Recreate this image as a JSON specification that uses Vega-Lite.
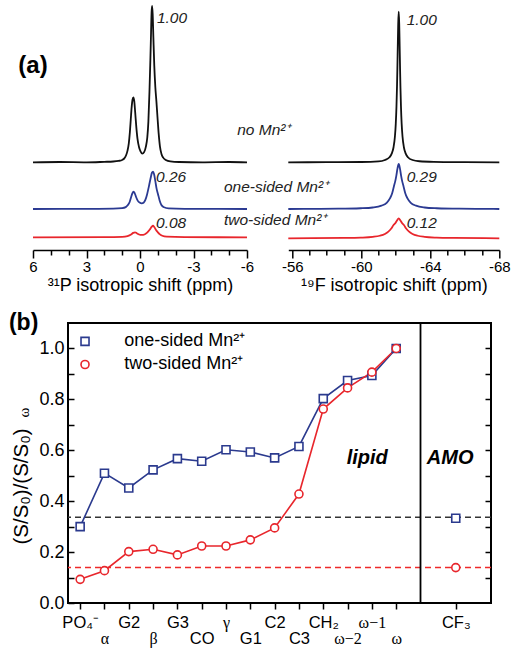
{
  "$schema": "https://vega.github.io/schema/vega-lite/v6.json",
  "padding": {"left": 7, "top": 2, "right": 0, "bottom": 0},
  "background": "white",
  "config": {"font": "Liberation Sans", "view": {"stroke": null}},
  "datasets": {
    "p31": [
      {"trace":"none","ppm":6,"I":0},{"trace":"none","ppm":4.5,"I":0.002},{"trace":"none","ppm":3,"I":0},{"trace":"none","ppm":2,"I":0.003},{"trace":"none","ppm":1.5,"I":0.005},{"trace":"none","ppm":1.2,"I":0.009},{"trace":"none","ppm":1.0,"I":0.015},{"trace":"none","ppm":0.88,"I":0.025},{"trace":"none","ppm":0.78,"I":0.045},{"trace":"none","ppm":0.7,"I":0.075},{"trace":"none","ppm":0.63,"I":0.12},{"trace":"none","ppm":0.57,"I":0.19},{"trace":"none","ppm":0.52,"I":0.27},{"trace":"none","ppm":0.47,"I":0.35},{"trace":"none","ppm":0.42,"I":0.4},{"trace":"none","ppm":0.37,"I":0.415},{"trace":"none","ppm":0.32,"I":0.39},{"trace":"none","ppm":0.27,"I":0.32},{"trace":"none","ppm":0.21,"I":0.23},{"trace":"none","ppm":0.14,"I":0.15},{"trace":"none","ppm":0.06,"I":0.1},{"trace":"none","ppm":-0.03,"I":0.07},{"trace":"none","ppm":-0.13,"I":0.055},{"trace":"none","ppm":-0.23,"I":0.065},{"trace":"none","ppm":-0.33,"I":0.1},{"trace":"none","ppm":-0.41,"I":0.16},{"trace":"none","ppm":-0.47,"I":0.26},{"trace":"none","ppm":-0.53,"I":0.45},{"trace":"none","ppm":-0.58,"I":0.65},{"trace":"none","ppm":-0.62,"I":0.83},{"trace":"none","ppm":-0.65,"I":0.96},{"trace":"none","ppm":-0.68,"I":1.0},{"trace":"none","ppm":-0.71,"I":0.95},{"trace":"none","ppm":-0.75,"I":0.8},{"trace":"none","ppm":-0.8,"I":0.62},{"trace":"none","ppm":-0.86,"I":0.48},{"trace":"none","ppm":-0.92,"I":0.39},{"trace":"none","ppm":-0.98,"I":0.29},{"trace":"none","ppm":-1.05,"I":0.18},{"trace":"none","ppm":-1.12,"I":0.1},{"trace":"none","ppm":-1.2,"I":0.055},{"trace":"none","ppm":-1.3,"I":0.03},{"trace":"none","ppm":-1.45,"I":0.015},{"trace":"none","ppm":-1.7,"I":0.006},{"trace":"none","ppm":-2.2,"I":0.002},{"trace":"none","ppm":-3.5,"I":0},{"trace":"none","ppm":-5,"I":0.002},{"trace":"none","ppm":-6,"I":0},
      {"trace":"one","ppm":6,"I":0},{"trace":"one","ppm":3,"I":0.001},{"trace":"one","ppm":1.5,"I":0.002},{"trace":"one","ppm":1.0,"I":0.005},{"trace":"one","ppm":0.8,"I":0.012},{"trace":"one","ppm":0.68,"I":0.025},{"trace":"one","ppm":0.58,"I":0.045},{"trace":"one","ppm":0.5,"I":0.075},{"trace":"one","ppm":0.43,"I":0.1},{"trace":"one","ppm":0.36,"I":0.111},{"trace":"one","ppm":0.3,"I":0.102},{"trace":"one","ppm":0.22,"I":0.077},{"trace":"one","ppm":0.12,"I":0.052},{"trace":"one","ppm":0.02,"I":0.041},{"trace":"one","ppm":-0.1,"I":0.036},{"trace":"one","ppm":-0.2,"I":0.04},{"trace":"one","ppm":-0.3,"I":0.058},{"trace":"one","ppm":-0.4,"I":0.095},{"trace":"one","ppm":-0.5,"I":0.145},{"trace":"one","ppm":-0.6,"I":0.2},{"trace":"one","ppm":-0.67,"I":0.232},{"trace":"one","ppm":-0.73,"I":0.239},{"trace":"one","ppm":-0.79,"I":0.222},{"trace":"one","ppm":-0.86,"I":0.178},{"trace":"one","ppm":-0.93,"I":0.13},{"trace":"one","ppm":-1.01,"I":0.095},{"trace":"one","ppm":-1.1,"I":0.055},{"trace":"one","ppm":-1.2,"I":0.026},{"trace":"one","ppm":-1.35,"I":0.011},{"trace":"one","ppm":-1.6,"I":0.004},{"trace":"one","ppm":-2.5,"I":0.001},{"trace":"one","ppm":-6,"I":0},
      {"trace":"two","ppm":6,"I":0},{"trace":"two","ppm":2,"I":0.001},{"trace":"two","ppm":1.0,"I":0.003},{"trace":"two","ppm":0.7,"I":0.008},{"trace":"two","ppm":0.5,"I":0.018},{"trace":"two","ppm":0.38,"I":0.028},{"trace":"two","ppm":0.28,"I":0.032},{"trace":"two","ppm":0.18,"I":0.026},{"trace":"two","ppm":0.05,"I":0.018},{"trace":"two","ppm":-0.1,"I":0.015},{"trace":"two","ppm":-0.25,"I":0.018},{"trace":"two","ppm":-0.4,"I":0.03},{"trace":"two","ppm":-0.55,"I":0.05},{"trace":"two","ppm":-0.65,"I":0.066},{"trace":"two","ppm":-0.73,"I":0.074},{"trace":"two","ppm":-0.8,"I":0.066},{"trace":"two","ppm":-0.9,"I":0.046},{"trace":"two","ppm":-1.0,"I":0.032},{"trace":"two","ppm":-1.1,"I":0.02},{"trace":"two","ppm":-1.25,"I":0.01},{"trace":"two","ppm":-1.5,"I":0.004},{"trace":"two","ppm":-2.5,"I":0.001},{"trace":"two","ppm":-6,"I":0}
    ],
    "f19": [
      {"trace":"none","ppm":-55.77,"I":0},{"trace":"none","ppm":-58,"I":0.001},{"trace":"none","ppm":-60,"I":0.002},{"trace":"none","ppm":-61,"I":0.006},{"trace":"none","ppm":-61.37,"I":0.0154},{"trace":"none","ppm":-61.62,"I":0.032},{"trace":"none","ppm":-61.77,"I":0.059},{"trace":"none","ppm":-61.87,"I":0.1},{"trace":"none","ppm":-61.95,"I":0.171},{"trace":"none","ppm":-62.0,"I":0.257},{"trace":"none","ppm":-62.04,"I":0.372},{"trace":"none","ppm":-62.07,"I":0.5},{"trace":"none","ppm":-62.09,"I":0.61},{"trace":"none","ppm":-62.12,"I":0.8},{"trace":"none","ppm":-62.14,"I":0.917},{"trace":"none","ppm":-62.17,"I":1.0},{"trace":"none","ppm":-62.2,"I":0.917},{"trace":"none","ppm":-62.22,"I":0.8},{"trace":"none","ppm":-62.25,"I":0.61},{"trace":"none","ppm":-62.27,"I":0.5},{"trace":"none","ppm":-62.3,"I":0.372},{"trace":"none","ppm":-62.34,"I":0.257},{"trace":"none","ppm":-62.39,"I":0.171},{"trace":"none","ppm":-62.47,"I":0.1},{"trace":"none","ppm":-62.57,"I":0.059},{"trace":"none","ppm":-62.72,"I":0.032},{"trace":"none","ppm":-62.97,"I":0.0154},{"trace":"none","ppm":-63.37,"I":0.007},{"trace":"none","ppm":-64.2,"I":0.003},{"trace":"none","ppm":-66,"I":0.001},{"trace":"none","ppm":-68,"I":0},
      {"trace":"one","ppm":-55.77,"I":0},{"trace":"one","ppm":-56.67,"I":0.001},{"trace":"one","ppm":-58.67,"I":0.002},{"trace":"one","ppm":-59.97,"I":0.005},{"trace":"one","ppm":-60.67,"I":0.01},{"trace":"one","ppm":-61.17,"I":0.022},{"trace":"one","ppm":-61.47,"I":0.041},{"trace":"one","ppm":-61.67,"I":0.072},{"trace":"one","ppm":-61.79,"I":0.105},{"trace":"one","ppm":-61.89,"I":0.15},{"trace":"one","ppm":-61.97,"I":0.185},{"trace":"one","ppm":-62.03,"I":0.22},{"trace":"one","ppm":-62.1,"I":0.27},{"trace":"one","ppm":-62.17,"I":0.299},{"trace":"one","ppm":-62.24,"I":0.27},{"trace":"one","ppm":-62.31,"I":0.22},{"trace":"one","ppm":-62.37,"I":0.185},{"trace":"one","ppm":-62.45,"I":0.15},{"trace":"one","ppm":-62.55,"I":0.105},{"trace":"one","ppm":-62.67,"I":0.072},{"trace":"one","ppm":-62.87,"I":0.041},{"trace":"one","ppm":-63.17,"I":0.022},{"trace":"one","ppm":-63.67,"I":0.01},{"trace":"one","ppm":-64.37,"I":0.005},{"trace":"one","ppm":-65.67,"I":0.002},{"trace":"one","ppm":-67.67,"I":0.001},{"trace":"one","ppm":-68,"I":0},
      {"trace":"two","ppm":-55.77,"I":0},{"trace":"two","ppm":-57.17,"I":0.0009},{"trace":"two","ppm":-58.97,"I":0.0023},{"trace":"two","ppm":-59.97,"I":0.0047},{"trace":"two","ppm":-60.67,"I":0.0097},{"trace":"two","ppm":-61.07,"I":0.017},{"trace":"two","ppm":-61.37,"I":0.029},{"trace":"two","ppm":-61.57,"I":0.044},{"trace":"two","ppm":-61.75,"I":0.0665},{"trace":"two","ppm":-61.87,"I":0.088},{"trace":"two","ppm":-61.97,"I":0.1},{"trace":"two","ppm":-62.07,"I":0.118},{"trace":"two","ppm":-62.17,"I":0.133},{"trace":"two","ppm":-62.27,"I":0.118},{"trace":"two","ppm":-62.37,"I":0.1},{"trace":"two","ppm":-62.47,"I":0.088},{"trace":"two","ppm":-62.59,"I":0.0665},{"trace":"two","ppm":-62.77,"I":0.044},{"trace":"two","ppm":-62.97,"I":0.029},{"trace":"two","ppm":-63.27,"I":0.017},{"trace":"two","ppm":-63.67,"I":0.0097},{"trace":"two","ppm":-64.37,"I":0.0047},{"trace":"two","ppm":-65.37,"I":0.0023},{"trace":"two","ppm":-67.17,"I":0.0009},{"trace":"two","ppm":-68,"I":0}
    ],
    "notes": [
      {"panel":"P","trace":"none","role":"value","ppm":-0.95,"I":0.923,"text":"1.00"},
      {"panel":"P","trace":"none","role":"cond","ppm":-5.45,"I":0.207,"text":"no Mn²⁺"},
      {"panel":"P","trace":"none","role":"panel","ppm":6.824,"I":0.616,"text":"(a)"},
      {"panel":"P","trace":"one","role":"value","ppm":-0.9,"I":0.205,"text":"0.26"},
      {"panel":"P","trace":"one","role":"cond","ppm":-4.71,"I":0.141,"text":"one-sided Mn²⁺"},
      {"panel":"P","trace":"two","role":"value","ppm":-0.9,"I":0.091,"text":"0.08"},
      {"panel":"P","trace":"two","role":"cond","ppm":-4.71,"I":0.111,"text":"two-sided Mn²⁺"},
      {"panel":"F","trace":"none","role":"value","ppm":-62.63,"I":0.945,"text":"1.00"},
      {"panel":"F","trace":"one","role":"value","ppm":-62.63,"I":0.2126,"text":"0.29"},
      {"panel":"F","trace":"two","role":"value","ppm":-62.63,"I":0.1017,"text":"0.12"}
    ],
    "ratios": [
      {"series":"one-sided Mn²⁺","label":"PO₄⁻","idx":0,"val":0.300},
      {"series":"one-sided Mn²⁺","label":"α","idx":1,"val":0.510},
      {"series":"one-sided Mn²⁺","label":"G2","idx":2,"val":0.452},
      {"series":"one-sided Mn²⁺","label":"β","idx":3,"val":0.523},
      {"series":"one-sided Mn²⁺","label":"G3","idx":4,"val":0.567},
      {"series":"one-sided Mn²⁺","label":"CO","idx":5,"val":0.557},
      {"series":"one-sided Mn²⁺","label":"γ","idx":6,"val":0.602},
      {"series":"one-sided Mn²⁺","label":"G1","idx":7,"val":0.593},
      {"series":"one-sided Mn²⁺","label":"C2","idx":8,"val":0.570},
      {"series":"one-sided Mn²⁺","label":"C3","idx":9,"val":0.615},
      {"series":"one-sided Mn²⁺","label":"CH₂","idx":10,"val":0.803},
      {"series":"one-sided Mn²⁺","label":"ω−2","idx":11,"val":0.874},
      {"series":"one-sided Mn²⁺","label":"ω−1","idx":12,"val":0.894},
      {"series":"one-sided Mn²⁺","label":"ω","idx":13,"val":1.0},
      {"series":"one-sided Mn²⁺","label":"CF₃","idx":15.45,"val":0.333},
      {"series":"two-sided Mn²⁺","label":"PO₄⁻","idx":0,"val":0.093},
      {"series":"two-sided Mn²⁺","label":"α","idx":1,"val":0.127},
      {"series":"two-sided Mn²⁺","label":"G2","idx":2,"val":0.202},
      {"series":"two-sided Mn²⁺","label":"β","idx":3,"val":0.211},
      {"series":"two-sided Mn²⁺","label":"G3","idx":4,"val":0.189},
      {"series":"two-sided Mn²⁺","label":"CO","idx":5,"val":0.224},
      {"series":"two-sided Mn²⁺","label":"γ","idx":6,"val":0.224},
      {"series":"two-sided Mn²⁺","label":"G1","idx":7,"val":0.248},
      {"series":"two-sided Mn²⁺","label":"C2","idx":8,"val":0.295},
      {"series":"two-sided Mn²⁺","label":"C3","idx":9,"val":0.428},
      {"series":"two-sided Mn²⁺","label":"CH₂","idx":10,"val":0.762},
      {"series":"two-sided Mn²⁺","label":"ω−2","idx":11,"val":0.845},
      {"series":"two-sided Mn²⁺","label":"ω−1","idx":12,"val":0.907},
      {"series":"two-sided Mn²⁺","label":"ω","idx":13,"val":1.0},
      {"series":"two-sided Mn²⁺","label":"CF₃","idx":15.45,"val":0.139}
    ],
    "refs": [
      {"series":"one-sided Mn²⁺","level":0.337},
      {"series":"two-sided Mn²⁺","level":0.139}
    ],
    "divider": [{"pos":14}],
    "legendItems": [
      {"series":"one-sided Mn²⁺","idx":0.2,"val":1.028,"labelIdx":1.81},
      {"series":"two-sided Mn²⁺","idx":0.2,"val":0.937,"labelIdx":1.81}
    ],
    "bnotes": [
      {"role":"panel","idx":-2.93,"val":1.1,"text":"(b)"},
      {"role":"region","idx":11.81,"val":0.57,"text":"lipid"},
      {"role":"region","idx":15.22,"val":0.57,"text":"AMO"},
      {"role":"sub","idx":-2.33,"val":0.748,"text":"ω"}
    ],
    "empty": []
  },
  "spacing": 17,
  "vconcat": [
    {
      "spacing": 41.3,
      "bounds": "flush",
      "hconcat": [
        {
          "width": 214,
          "height": 245,
          "encoding": {
            "x": {"field": "ppm", "type": "quantitative",
              "scale": {"domain": [-6, 6], "reverse": true, "nice": false, "zero": false},
              "axis": {
                "values": [-6,-5,-4,-3,-2,-1,0,1,2,3,4,5,6],
                "labelExpr": "datum.value % 3 == 0 ? '' + datum.value : ''",
                "tickSize": {"condition": {"test": "datum.value % 3 == 0", "value": 8}, "value": 5},
                "tickWidth": 1.5, "tickColor": "black",
                "domainColor": "black", "domainWidth": 1.5,
                "labelFontSize": 15, "labelColor": "black", "labelPadding": 1,
                "labelFlush": false, "labelOverlap": false, "grid": false,
                "title": "³¹P isotropic shift (ppm)", "titleFontSize": 18, "titleFontWeight": "normal", "titleColor": "black", "titlePadding": 2
              }
            }
          },
          "layer": [
            {
              "encoding": {"y": {"field": "I", "type": "quantitative", "scale": {"domain": [-0.5611, 1.0064], "nice": false, "zero": false}, "axis": null}},
              "layer": [
                {"data": {"name": "p31"}, "transform": [{"filter": "datum.trace == 'none'"}],
                 "mark": {"type": "line", "color": "#111111", "strokeWidth": 1.8, "interpolate": "monotone"}},
                {"data": {"name": "notes"}, "transform": [{"filter": "datum.panel == 'P' && datum.trace == 'none' && datum.role != 'panel'"}],
                 "mark": {"type": "text", "align": "left", "baseline": "middle", "fontStyle": "italic", "fontSize": 15.5, "color": "#222222"},
                 "encoding": {"text": {"field": "text"}}},
                {"data": {"name": "notes"}, "transform": [{"filter": "datum.panel == 'P' && datum.role == 'panel'"}],
                 "mark": {"type": "text", "align": "left", "baseline": "middle", "fontWeight": "bold", "fontSize": 24, "color": "black"},
                 "encoding": {"text": {"field": "text"}}}
              ]
            },
            {
              "encoding": {"y": {"field": "I", "type": "quantitative", "scale": {"domain": [-0.2623, 1.3052], "nice": false, "zero": false}, "axis": null}},
              "layer": [
                {"data": {"name": "p31"}, "transform": [{"filter": "datum.trace == 'one'"}],
                 "mark": {"type": "line", "color": "#2b3a92", "strokeWidth": 1.8, "interpolate": "monotone"}},
                {"data": {"name": "notes"}, "transform": [{"filter": "datum.panel == 'P' && datum.trace == 'one'"}],
                 "mark": {"type": "text", "align": "left", "baseline": "middle", "fontStyle": "italic", "fontSize": 15.5, "color": "#222222"},
                 "encoding": {"text": {"field": "text"}}}
              ]
            },
            {
              "encoding": {"y": {"field": "I", "type": "quantitative", "scale": {"domain": [-0.0813, 1.4862], "nice": false, "zero": false}, "axis": null}},
              "layer": [
                {"data": {"name": "p31"}, "transform": [{"filter": "datum.trace == 'two'"}],
                 "mark": {"type": "line", "color": "#e8262c", "strokeWidth": 1.8, "interpolate": "monotone"}},
                {"data": {"name": "notes"}, "transform": [{"filter": "datum.panel == 'P' && datum.trace == 'two'"}],
                 "mark": {"type": "text", "align": "left", "baseline": "middle", "fontStyle": "italic", "fontSize": 15.5, "color": "#222222"},
                 "encoding": {"text": {"field": "text"}}}
              ]
            }
          ],
          "resolve": {"scale": {"y": "independent"}}
        },
        {
          "width": 211,
          "height": 245,
          "encoding": {
            "x": {"field": "ppm", "type": "quantitative",
              "scale": {"domain": [-68, -55.77], "reverse": true, "nice": false, "zero": false},
              "axis": {
                "values": [-56,-57,-58,-59,-60,-61,-62,-63,-64,-65,-66,-67,-68],
                "labelExpr": "datum.value % 4 == 0 ? '' + datum.value : ''",
                "tickSize": {"condition": {"test": "datum.value % 4 == 0", "value": 8}, "value": 5},
                "tickWidth": 1.5, "tickColor": "black",
                "domainColor": "black", "domainWidth": 1.5,
                "labelFontSize": 15, "labelColor": "black", "labelPadding": 1,
                "labelFlush": false, "labelOverlap": false, "grid": false,
                "title": "¹⁹F isotropic shift (ppm)", "titleFontSize": 18, "titleFontWeight": "normal", "titleColor": "black", "titlePadding": 2
              }
            }
          },
          "layer": [
            {
              "encoding": {"y": {"field": "I", "type": "quantitative", "scale": {"domain": [-0.5823, 1.0445], "nice": false, "zero": false}, "axis": null}},
              "layer": [
                {"data": {"name": "f19"}, "transform": [{"filter": "datum.trace == 'none'"}],
                 "mark": {"type": "line", "color": "#111111", "strokeWidth": 1.8, "interpolate": "monotone"}},
                {"data": {"name": "notes"}, "transform": [{"filter": "datum.panel == 'F' && datum.trace == 'none'"}],
                 "mark": {"type": "text", "align": "left", "baseline": "middle", "fontStyle": "italic", "fontSize": 15.5, "color": "#222222"},
                 "encoding": {"text": {"field": "text"}}}
              ]
            },
            {
              "encoding": {"y": {"field": "I", "type": "quantitative", "scale": {"domain": [-0.2722, 1.3546], "nice": false, "zero": false}, "axis": null}},
              "layer": [
                {"data": {"name": "f19"}, "transform": [{"filter": "datum.trace == 'one'"}],
                 "mark": {"type": "line", "color": "#2b3a92", "strokeWidth": 1.8, "interpolate": "monotone"}},
                {"data": {"name": "notes"}, "transform": [{"filter": "datum.panel == 'F' && datum.trace == 'one'"}],
                 "mark": {"type": "text", "align": "left", "baseline": "middle", "fontStyle": "italic", "fontSize": 15.5, "color": "#222222"},
                 "encoding": {"text": {"field": "text"}}}
              ]
            },
            {
              "encoding": {"y": {"field": "I", "type": "quantitative", "scale": {"domain": [-0.0776, 1.5492], "nice": false, "zero": false}, "axis": null}},
              "layer": [
                {"data": {"name": "f19"}, "transform": [{"filter": "datum.trace == 'two'"}],
                 "mark": {"type": "line", "color": "#e8262c", "strokeWidth": 1.8, "interpolate": "monotone"}},
                {"data": {"name": "notes"}, "transform": [{"filter": "datum.panel == 'F' && datum.trace == 'two'"}],
                 "mark": {"type": "text", "align": "left", "baseline": "middle", "fontStyle": "italic", "fontSize": 15.5, "color": "#222222"},
                 "encoding": {"text": {"field": "text"}}}
              ]
            }
          ],
          "resolve": {"scale": {"y": "independent"}}
        }
      ]
    },
    {
      "spacing": 0,
      "bounds": "flush",
      "hconcat": [
        {
          "width": 34.3,
          "height": 280,
          "data": {"name": "empty"},
          "mark": {"type": "point", "opacity": 0}
        },
        {
          "width": 423,
          "height": 280,
          "view": {"stroke": "black", "strokeWidth": 2},
          "layer": [
            {
              "data": {"name": "refs"},
              "transform": [{"filter": "datum.series == 'one-sided Mn²⁺'"}],
              "mark": {"type": "rule", "strokeDash": [6, 4], "strokeWidth": 1.5, "color": "#333333"},
              "encoding": {
                "y": {"field": "level", "type": "quantitative", "scale": {"domain": [0, 1.1], "nice": false, "zero": false}, "axis": null}
              }
            },
            {
              "data": {"name": "refs"},
              "transform": [{"filter": "datum.series == 'two-sided Mn²⁺'"}],
              "mark": {"type": "rule", "strokeDash": [6, 4], "strokeWidth": 1.5, "color": "#ee2a2a"},
              "encoding": {
                "y": {"field": "level", "type": "quantitative", "scale": {"domain": [0, 1.1], "nice": false, "zero": false}, "axis": null}
              }
            },
            {
              "data": {"name": "divider"},
              "mark": {"type": "rule", "color": "black", "strokeWidth": 1.8},
              "encoding": {
                "x": {"field": "pos", "type": "quantitative", "scale": {"domain": [-0.5, 16.9], "nice": false, "zero": false}, "axis": null}
              }
            },
            {
              "data": {"name": "ratios"},
              "transform": [{"filter": "datum.idx < 14 && datum.series == 'one-sided Mn²⁺'"}],
              "mark": {"type": "line", "strokeWidth": 1.6, "color": "#2b3a8e"},
              "encoding": {
                "x": {"field": "idx", "type": "quantitative", "scale": {"domain": [-0.5, 16.9], "nice": false, "zero": false}, "axis": null},
                "y": {"field": "val", "type": "quantitative", "scale": {"domain": [0, 1.1], "nice": false, "zero": false},
                  "axis": {"orient": "right", "values": [0.1,0.2,0.3,0.4,0.5,0.6,0.7,0.8,0.9,1.0], "labels": false, "offset": -6, "tickSize": 6, "tickWidth": 1.5, "tickColor": "black", "domain": false, "grid": false, "title": null}}
              }
            },
            {
              "data": {"name": "ratios"},
              "transform": [{"filter": "datum.idx < 14 && datum.series == 'two-sided Mn²⁺'"}],
              "mark": {"type": "line", "strokeWidth": 1.6, "color": "#e8262c"},
              "encoding": {
                "x": {"field": "idx", "type": "quantitative", "scale": {"domain": [-0.5, 16.9], "nice": false, "zero": false}, "axis": null},
                "y": {"field": "val", "type": "quantitative", "scale": {"domain": [0, 1.1], "nice": false, "zero": false}, "axis": null}
              }
            },
            {
              "data": {"name": "ratios"},
              "mark": {"type": "point", "filled": false, "fill": "white", "strokeWidth": 1.6, "size": 64, "opacity": 1},
              "encoding": {
                "x": {"field": "idx", "type": "quantitative", "scale": {"domain": [-0.5, 16.9], "nice": false, "zero": false},
                  "axis": {
                    "values": [0,1,2,3,4,5,6,7,8,9,10,11,12,13,15.45],
                    "labelExpr": "datum.value == 15.45 ? 'CF₃' : datum.value % 2 == 1 ? ['', ['PO₄⁻','α','G2','β','G3','CO','γ','G1','C2','C3','CH₂','ω−2','ω−1','ω'][datum.value]] : ['PO₄⁻','α','G2','β','G3','CO','γ','G1','C2','C3','CH₂','ω−2','ω−1','ω'][datum.value]",
                    "labelLineHeight": 16,
                    "labelPadding": 5,
                    "labelFont": {"condition": {"test": "indexof([1,3,6,11,12,13], datum.value) >= 0", "value": "Liberation Serif"}, "value": "Liberation Sans"},
                    "labelFontSize": {"condition": {"test": "indexof([1,3,6,11,12,13], datum.value) >= 0", "value": 16}, "value": 16.5},
                    "labelColor": "black", "labelFlush": false, "labelOverlap": false, "labelBound": false,
                    "tickSize": 6, "tickWidth": 1.5, "tickColor": "black", "domain": false, "grid": false, "title": null
                  }},
                "y": {"field": "val", "type": "quantitative", "scale": {"domain": [0, 1.1], "nice": false, "zero": false},
                  "axis": {"orient": "left", "values": [0,0.1,0.2,0.3,0.4,0.5,0.6,0.7,0.8,0.9,1.0],
                    "labelExpr": "round(datum.value*10) % 2 == 0 ? format(datum.value, '.1f') : ''",
                    "offset": -6, "tickSize": 6, "tickWidth": 1.5, "tickColor": "black", "domain": false, "grid": false,
                    "labelFontSize": 18, "labelColor": "black", "labelPadding": 4,
                    "title": "(S/S₀)/(S/S₀)", "titleFontSize": 20.5, "titleFontWeight": "normal", "titleColor": "black", "titlePadding": 7, "titleY": 163}},
                "color": {"field": "series", "type": "nominal", "scale": {"domain": ["one-sided Mn²⁺", "two-sided Mn²⁺"], "range": ["#2b3a8e", "#e8262c"]}, "legend": null},
                "shape": {"field": "series", "type": "nominal", "scale": {"domain": ["one-sided Mn²⁺", "two-sided Mn²⁺"], "range": ["square", "circle"]}, "legend": null}
              }
            },
            {
              "data": {"name": "legendItems"},
              "mark": {"type": "point", "filled": false, "fill": "white", "strokeWidth": 1.6, "size": 64, "opacity": 1},
              "encoding": {
                "x": {"field": "idx", "type": "quantitative", "scale": {"domain": [-0.5, 16.9], "nice": false, "zero": false}, "axis": null},
                "y": {"field": "val", "type": "quantitative", "scale": {"domain": [0, 1.1], "nice": false, "zero": false}, "axis": null},
                "color": {"field": "series", "type": "nominal", "legend": null},
                "shape": {"field": "series", "type": "nominal", "legend": null}
              }
            },
            {
              "data": {"name": "legendItems"},
              "mark": {"type": "text", "fontSize": 18, "align": "left", "baseline": "middle", "color": "black"},
              "encoding": {
                "x": {"field": "labelIdx", "type": "quantitative", "scale": {"domain": [-0.5, 16.9], "nice": false, "zero": false}, "axis": null},
                "y": {"field": "val", "type": "quantitative", "scale": {"domain": [0, 1.1], "nice": false, "zero": false}, "axis": null},
                "text": {"field": "series"}
              }
            },
            {
              "data": {"name": "bnotes"},
              "transform": [{"filter": "datum.role == 'region'"}],
              "mark": {"type": "text", "fontWeight": "bold", "fontStyle": "italic", "fontSize": 20, "align": "center", "baseline": "middle", "color": "black"},
              "encoding": {
                "x": {"field": "idx", "type": "quantitative", "scale": {"domain": [-0.5, 16.9], "nice": false, "zero": false}, "axis": null},
                "y": {"field": "val", "type": "quantitative", "scale": {"domain": [0, 1.1], "nice": false, "zero": false}, "axis": null},
                "text": {"field": "text"}
              }
            },
            {
              "data": {"name": "bnotes"},
              "transform": [{"filter": "datum.role == 'panel'"}],
              "mark": {"type": "text", "fontWeight": "bold", "fontSize": 23, "align": "left", "baseline": "middle", "color": "black"},
              "encoding": {
                "x": {"field": "idx", "type": "quantitative", "scale": {"domain": [-0.5, 16.9], "nice": false, "zero": false}, "axis": null},
                "y": {"field": "val", "type": "quantitative", "scale": {"domain": [0, 1.1], "nice": false, "zero": false}, "axis": null},
                "text": {"field": "text"}
              }
            },
            {
              "data": {"name": "bnotes"},
              "transform": [{"filter": "datum.role == 'sub'"}],
              "mark": {"type": "text", "fontSize": 15, "font": "Liberation Serif", "angle": 270, "align": "center", "baseline": "middle", "color": "black"},
              "encoding": {
                "x": {"field": "idx", "type": "quantitative", "scale": {"domain": [-0.5, 16.9], "nice": false, "zero": false}, "axis": null},
                "y": {"field": "val", "type": "quantitative", "scale": {"domain": [0, 1.1], "nice": false, "zero": false}, "axis": null},
                "text": {"field": "text"}
              }
            }
          ],
          "resolve": {"axis": {"x": "independent", "y": "independent"}}
        }
      ]
    }
  ]
}
